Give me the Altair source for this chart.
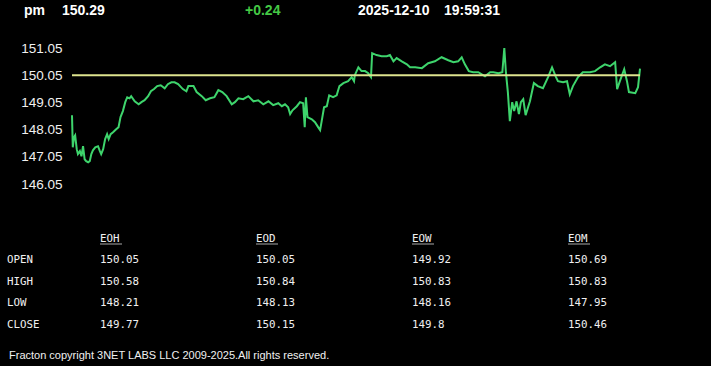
import altair as alt
import pandas as pd

# ---------------- data ----------------
symbol = "pm"
last_price = "150.29"
change = "+0.24"
date_str = "2025-12-10"
time_str = "19:59:31"

# minutes since start of the session
t_min = [0, 2, 5, 8, 12, 15, 20, 24, 28, 32, 36, 41, 45, 49, 53, 59, 66, 70, 74, 79,
         84, 89, 93, 98, 104, 112, 118, 123, 129, 135, 140, 146, 150, 159, 169, 176, 184, 193, 200, 208,
         216, 225, 235, 243, 252, 260, 269, 281, 290, 295, 308, 316, 329, 339, 350, 361, 371, 381, 392, 405,
         413, 422, 434, 447, 460, 472, 485, 498, 510, 523, 532, 540, 548, 553, 559, 570, 578, 586, 590, 593,
         597, 608, 616, 624, 629, 633, 639, 646, 652, 662, 671, 678, 688, 700, 709, 715, 717, 726, 734, 743,
         751, 758, 761, 772, 785, 798, 806, 815, 823, 836, 849, 857, 870, 887, 903, 920, 937, 954, 967, 979,
         988, 996, 1006, 1017, 1030, 1047, 1060, 1068, 1081, 1091, 1096, 1100, 1105, 1110, 1116, 1121, 1127, 1133, 1138, 1144,
         1150, 1157, 1161, 1166, 1171, 1181, 1194, 1207, 1217, 1227, 1232, 1245, 1255, 1262, 1270, 1283, 1295, 1313, 1326, 1339,
         1351, 1364, 1377, 1382, 1389, 1400, 1407, 1412, 1428, 1435, 1440]
price = [148.58, 147.40, 147.77, 147.84, 147.33, 147.15, 147.26, 147.07, 147.44, 146.96,
         146.89, 146.85, 146.89, 147.15, 147.29, 147.40, 147.44, 147.29, 147.15, 147.33,
         147.70, 147.88, 147.70, 147.88, 147.95, 148.06, 148.14, 148.51, 148.73, 149.06,
         149.24, 149.20, 149.28, 149.09, 148.98, 149.06, 149.13, 149.28, 149.46, 149.54,
         149.65, 149.68, 149.57, 149.72, 149.79, 149.79, 149.72, 149.54, 149.46, 149.65,
         149.65, 149.43, 149.28, 149.13, 149.20, 149.24, 149.50, 149.43, 149.28, 148.98,
         149.06, 149.20, 149.17, 149.28, 149.09, 149.13, 148.98, 149.09, 148.95, 149.02,
         148.91, 148.98, 148.87, 148.62, 148.76, 148.91, 149.06, 149.02, 148.14, 149.24,
         148.51, 148.43, 148.32, 148.14, 148.03, 148.36, 148.87, 148.91, 149.31, 149.24,
         149.31, 149.65, 149.76, 149.83, 149.98, 149.83, 150.05, 150.34, 150.20, 150.20,
         150.12, 149.98, 150.86, 150.79, 150.75, 150.75, 150.79, 150.56, 150.68, 150.56,
         150.45, 150.34, 150.34, 150.31, 150.49, 150.56, 150.71, 150.60, 150.53, 150.56,
         150.71, 150.45, 150.20, 150.16, 150.16, 150.01, 150.16, 150.16, 150.12, 150.16,
         151.05, 150.16, 149.43, 148.36, 149.06, 148.73, 149.09, 148.62, 149.06, 149.17,
         148.58, 148.91, 149.09, 149.43, 149.76, 149.65, 149.57, 149.98, 150.34, 149.98,
         149.83, 149.79, 149.83, 149.35, 149.65, 149.98, 150.16, 150.16, 150.20, 150.34,
         150.45, 150.38, 150.53, 149.54, 149.83, 150.27, 149.83, 149.43, 149.39, 149.61,
         150.29]
ref_price = 150.05
y_ticks = [146.05, 147.05, 148.05, 149.05, 150.05, 151.05]

periods = ["EOH", "EOD", "EOW", "EOM"]
row_names = ["OPEN", "HIGH", "LOW", "CLOSE"]
eoh = [150.05, 150.58, 148.21, 149.77]
eod = [150.05, 150.84, 148.13, 150.15]
eow = [149.92, 150.83, 148.16, 149.8]
eom = [150.69, 150.83, 147.95, 150.46]

footer = "Fracton copyright 3NET LABS LLC 2009-2025.All rights reserved."

# ---------------- tables ----------------
line_df = pd.DataFrame({"t": t_min, "price": price})
ref_df = pd.DataFrame({"t0": [min(t_min)], "t1": [max(t_min)], "ref": [ref_price]})

cells = []
for p, vals in zip(periods, [eoh, eod, eow, eom]):
    for r, v in zip(row_names, vals):
        cells.append({"col": p, "row": r, "val": str(v)})
cell_df = pd.DataFrame(cells)
rowlab_df = pd.DataFrame({"row": row_names})
head_df = pd.DataFrame({"col": periods, "row": ["HDR"] * len(periods)})

# ---------------- styling ----------------
W, H = 711, 366
LINE_C = "#3ed46c"
REF_C = "#dde38e"
TXT_C = "#f0f0f0"
MONO = "DejaVu Sans Mono"
SANS = "Liberation Sans"

xs = alt.Scale(domain=[0, 1440], range=[72, 640], nice=False, zero=False)
ys = alt.Scale(domain=[146.05, 151.05], range=[184, 48], nice=False, zero=False)
col_scale = alt.Scale(type="point", domain=periods, range=[100, 568], padding=0)
row_scale = alt.Scale(type="point", domain=["HDR"] + row_names, range=[238.5, 324.5], padding=0)

line = alt.Chart(line_df).mark_line(color=LINE_C, strokeWidth=2).encode(
    x=alt.X("t:Q", scale=xs, axis=None),
    y=alt.Y("price:Q", scale=ys,
            axis=alt.Axis(values=y_ticks, format=".2f", domain=False, ticks=False, grid=False,
                          labelColor=TXT_C, labelFont=SANS, labelFontSize=13.5,
                          labelPadding=0, offset=-62, title=None)),
)

ref = alt.Chart(ref_df).mark_rule(color=REF_C, strokeWidth=2).encode(
    x=alt.X("t0:Q", scale=xs, axis=None),
    x2="t1:Q",
    y=alt.Y("ref:Q", scale=ys, axis=None),
)

cell_text = alt.Chart(cell_df).mark_text(
    align="left", baseline="middle", font=MONO, fontSize=10.8, color=TXT_C
).encode(
    x=alt.X("col:N", scale=col_scale, axis=None),
    y=alt.Y("row:N", scale=row_scale, axis=None),
    text="val:N",
)

row_text = alt.Chart(rowlab_df).mark_text(
    align="left", baseline="middle", font=MONO, fontSize=10.8, color=TXT_C
).encode(
    x=alt.value(7),
    y=alt.Y("row:N", scale=row_scale, axis=None),
    text="row:N",
)

head_text = alt.Chart(head_df).mark_text(
    align="left", baseline="middle", font=MONO, fontSize=10.8, color=TXT_C
).encode(
    x=alt.X("col:N", scale=col_scale, axis=None),
    y=alt.Y("row:N", scale=row_scale, axis=None),
    text="col:N",
)

head_line = alt.Chart(head_df).mark_tick(
    orient="horizontal", size=22, thickness=1, color=TXT_C, xOffset=11, yOffset=5.5
).encode(
    x=alt.X("col:N", scale=col_scale, axis=None),
    y=alt.Y("row:N", scale=row_scale, axis=None),
)

top_items = [
    (symbol, 24, "white"),
    (last_price, 62, "white"),
    (change, 245, "#45c845"),
    (date_str, 358, "white"),
    (time_str, 444, "white"),
]
top_layers = []
for txt, xpos, col in top_items:
    top_layers.append(
        alt.Chart(pd.DataFrame({"s": [txt]})).mark_text(
            align="left", baseline="alphabetic", font=SANS, fontSize=14, fontWeight="bold", color=col
        ).encode(x=alt.value(xpos), y=alt.value(14.5), text="s:N")
    )

foot = alt.Chart(pd.DataFrame({"s": [footer]})).mark_text(
    align="left", baseline="alphabetic", font=SANS, fontSize=11, color=TXT_C
).encode(x=alt.value(9), y=alt.value(359), text="s:N")

chart = alt.layer(line, ref, cell_text, row_text, head_text, head_line, *top_layers, foot).resolve_scale(
    x="independent", y="independent"
).properties(
    width=W, height=H, background="black", padding=0,
    autosize=alt.AutoSizeParams(type="none"),
).configure_view(stroke=None)

chart.save("out.html", embed_options={"renderer": "svg", "actions": False})
